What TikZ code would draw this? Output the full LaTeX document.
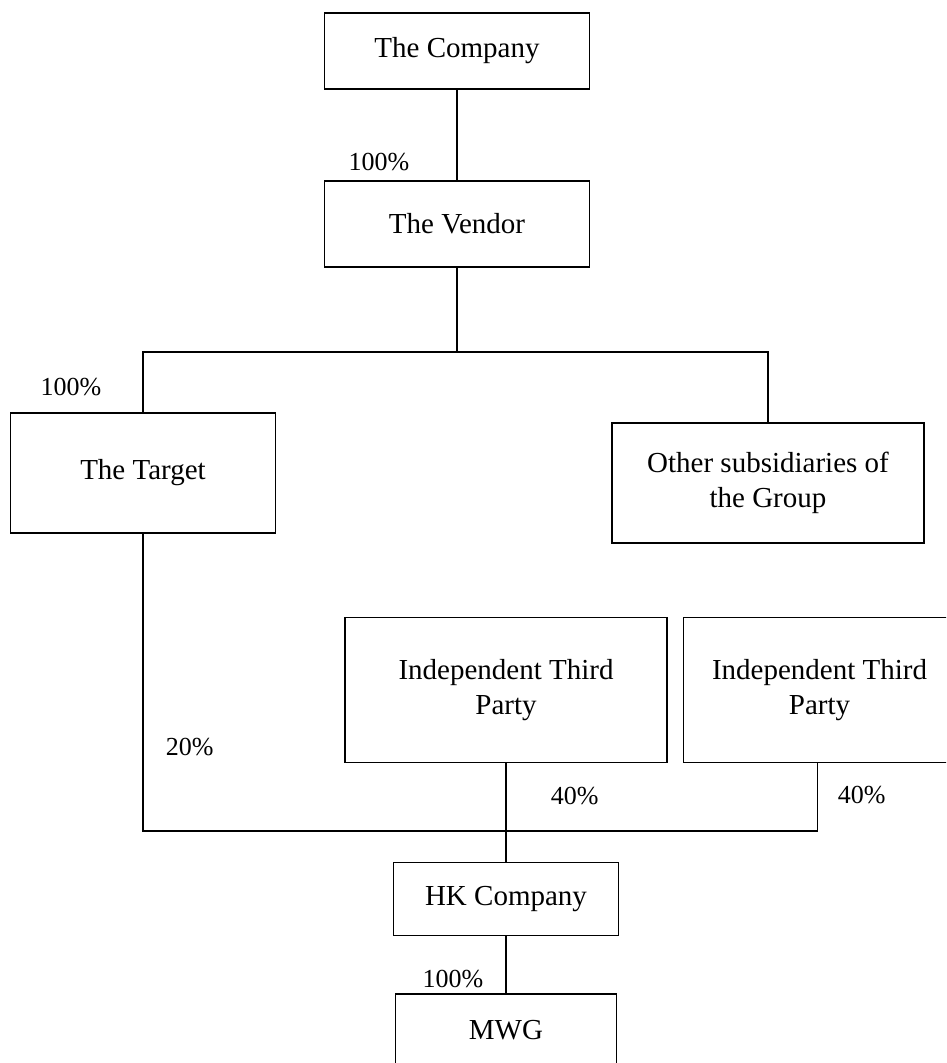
\documentclass[tikz,border=0pt]{standalone}
\usepackage{fontspec}
\setmainfont{Liberation Serif}
\usetikzlibrary{positioning}

\begin{document}
\begin{tikzpicture}[x=1pt,y=-1pt,line width=1.5pt,
  entity/.style={rectangle,draw,align=center,inner sep=0pt,font=\fontsize{29}{35}\selectfont},
  share/.style={inner sep=0pt,font=\fontsize{26}{30}\selectfont}]

  \useasboundingbox (0,0) rectangle (946,1063);
  \clip (0,0) rectangle (946,1063);

  \node[entity,minimum width=265pt,minimum height=76pt] (company) at (457,51) {The Company};
  \node[entity,minimum width=265pt,minimum height=86pt] (vendor) at (457,224) {The Vendor};
  \node[entity,minimum width=265pt,minimum height=120pt] (target) at (143,473) {The Target};
  \node[entity,minimum width=312pt,minimum height=120pt] (other) at (768,483) {Other subsidiaries of\\the Group};
  \node[entity,minimum width=322pt,minimum height=145pt] (itpa) at (506,690) {Independent Third\\Party};
  \node[entity,minimum width=272pt,minimum height=145pt] (itpb) [right=15pt of itpa] {Independent Third\\Party};
  \node[entity,minimum width=225pt,minimum height=73pt] (hk) at (506,899) {HK Company};
  \node[entity,minimum width=221pt,minimum height=73pt] (mwg) [below=57pt of hk] {MWG};

  \coordinate (topbus) at (457,352);
  \coordinate (lowbus) at (506,831);

  % shareholding lines
  \path (company) edge (vendor)
        (itpa) edge (hk)
        (hk) edge (mwg);
  \draw (vendor.south) -- (topbus);
  \draw (target.north) -- (target.north |- topbus) -- (other.north |- topbus) -- (other.north);
  \draw (target.south) -- (target.south |- lowbus) -- ([xshift=-2pt]itpb.south |- lowbus) -- ([xshift=-2pt]itpb.south);

  % percentages
  \node[share,anchor=base east] (pctvendor) at (410,170) {100\%};
  \node[share,anchor=base east] (pcttarget) at (102,395) {100\%};
  \node[share,anchor=base west] (pcthk) at (165,755) {20\%};
  \node[share,anchor=base west] (pctitpa) at (550,804) {40\%};
  \node[share,anchor=base west] (pctitpb) at (837,803) {40\%};
  \node[share,anchor=base east] (pctmwg) at (484,987) {100\%};
\end{tikzpicture}
\end{document}
